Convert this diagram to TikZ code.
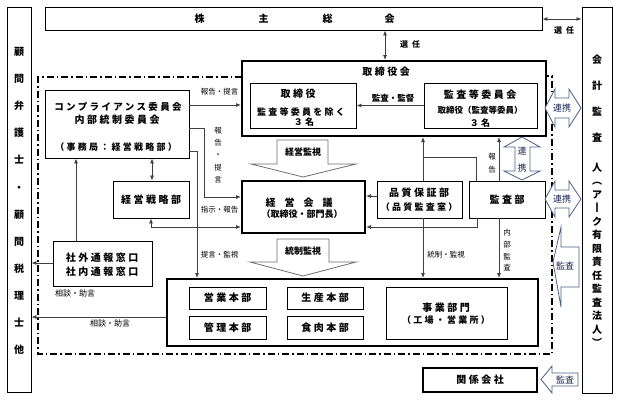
\documentclass[tikz,border=0pt]{standalone}
\usepackage{fontspec}
\setmainfont{Noto Sans CJK JP}
\newfontfamily\jpsp{Noto Sans CJK JP}[LetterSpace=25]
\usetikzlibrary{arrows.meta}
\definecolor{lnc}{RGB}{64,64,64}
\definecolor{slate}{RGB}{75,95,135}
\definecolor{navy}{RGB}{30,40,85}
\definecolor{gry}{RGB}{110,110,110}
\begin{document}
\begin{tikzpicture}[x=1pt,y=-1pt,
  box/.style={draw, line width=0.9pt, inner sep=0, fill=white},
  tbox/.style={draw, line width=2pt, inner sep=0, fill=white},
  T/.style={font=\jpsp\bfseries\fontsize{10}{12}\selectfont, inner sep=0},
  Ts/.style={font=\jpsp\bfseries\fontsize{9}{11}\selectfont, inner sep=0},
  S/.style={font=\fontsize{7.5}{9}\selectfont, inner sep=0},
  V/.style={inner sep=0, align=center},
  arr/.style={draw=lnc, line width=0.8pt, -{Latex[length=5pt,width=4pt]}},
  darr/.style={draw=lnc, line width=0.8pt, {Latex[length=5pt,width=4pt]}-{Latex[length=5pt,width=4pt]}},
  ln/.style={draw=lnc, line width=0.8pt},
  bgry/.style={draw=gry, line width=0.8pt, fill=white},
  bblu/.style={draw=slate, line width=0.8pt, fill=white},
  AT/.style={font=\fontsize{9}{10}\selectfont, text=navy, inner sep=0},
  dd/.style={line width=1.4pt, dash pattern=on 7pt off 3pt on 1.5pt off 3pt}
]
\fill[white] (0,0) rectangle (623,402);
\useasboundingbox (0,0) rectangle (623,402);

% dash-dot boundary
\draw[dd] (242,77) -- (38,77) -- (38,354) -- (552,354) -- (552,76) -- (546,76);

% outer boxes
\node[box, minimum width=24pt, minimum height=385pt] (adv) at (19,199.5) {};
\node[V, font=\bfseries\fontsize{10}{27.1}\selectfont] (advt) at (19,201) {顧\\問\\弁\\護\\士\\・\\顧\\問\\税\\理\\士\\他};
\node[box, minimum width=497pt, minimum height=23pt] (sh) at (293.5,18.5) {};
\node[T, font=\bfseries\fontsize{10}{12}\selectfont] (sht) at (294.5,19) {株\hspace{54pt}主\hspace{54pt}総\hspace{52pt}会};
\node[box, minimum width=30pt, minimum height=386pt] (aud) at (597,200) {};
\node[V, font=\bfseries\fontsize{10}{26}\selectfont] (audt1) at (597,99) {会\\計\\監\\査};
\node[V, font=\bfseries\fontsize{10}{13.5}\selectfont] (audt2) at (597,255) {人\\︵\\ア\\丨\\ク\\有\\限\\責\\任\\監\\査\\法\\人\\︶};

% board
\node[tbox, minimum width=304pt, minimum height=75pt] (board) at (394,98.5) {};
\node[T] (boardt) at (386,72) {取締役会};
\node[box, minimum width=106pt, minimum height=45pt] (dir) at (303,105.5) {};
\node[T] (dirt1) at (298,94) {取締役};
\node[Ts] (dirt2) at (301,112) {監査等委員を除く};
\node[Ts] (dirt3) at (304,122) {３名};
\node[box, minimum width=113pt, minimum height=45pt] (ac) at (480.5,105.5) {};
\node[T] (act1) at (480,95) {監査等委員会};
\node[Ts, font=\bfseries\fontsize{8.5}{10}\selectfont] (act2) at (480,110) {取締役（監査等委員）};
\node[Ts] (act3) at (480,123) {３名};
\node[font=\bfseries\fontsize{8.5}{10}\selectfont, inner sep=0] (kk) at (393,98) {監査・監督};

% compliance etc
\node[box, minimum width=144pt, minimum height=68pt] (comp) at (117,124) {};
\node[Ts, font=\jpsp\bfseries\fontsize{9.5}{11}\selectfont] (compt1) at (118,107) {コンプライアンス委員会};
\node[T] (compt2) at (117,120) {内部統制委員会};
\node[Ts] (compt3) at (116,147) {（事務局：経営戦略部）};
\node[box, minimum width=76pt, minimum height=37pt] (strat) at (151,199.5) {};
\node[T] (stratt) at (151,200) {経営戦略部};

% management meeting
\node[tbox, minimum width=123pt, minimum height=52pt] (mtg) at (303.5,207) {};
\node[font=\bfseries\fontsize{10}{12}\selectfont, inner sep=0] (mtgt1) at (299,203) {経\hspace{9pt}営\hspace{9pt}会\hspace{9pt}議};
\node[font=\bfseries\fontsize{9}{11}\selectfont, inner sep=0] (mtgt2) at (302,214) {（取締役・部門長）};
\node[box, minimum width=85pt, minimum height=37pt] (qa) at (419.5,199.5) {};
\node[T] (qat1) at (419,193) {品質保証部};
\node[Ts] (qat2) at (419,207) {（品質監査室）};
\node[box, minimum width=76pt, minimum height=37pt] (ad) at (507,199.5) {};
\node[T] (adt) at (507,200) {監査部};

% whistle-blowing
\node[box, minimum width=99pt, minimum height=45pt] (wb) at (102.5,263.5) {};
\node[T] (wbt1) at (102,258) {社外通報窓口};
\node[T] (wbt2) at (102,272) {社内通報窓口};

% business
\node[tbox, minimum width=371pt, minimum height=67pt] (biz) at (352.5,312.5) {};
\node[box, minimum width=77pt, minimum height=22pt] (sales) at (227.5,298) {};
\node[T] at (sales) {営業本部};
\node[box, minimum width=76pt, minimum height=22pt] (prod) at (325,298) {};
\node[T] at (prod) {生産本部};
\node[box, minimum width=77pt, minimum height=23pt] (mgmt) at (227.5,327.5) {};
\node[T] at (mgmt) {管理本部};
\node[box, minimum width=76pt, minimum height=23pt] (meat) at (325,327.5) {};
\node[T] at (meat) {食肉本部};
\node[box, minimum width=121pt, minimum height=52pt] (div) at (446.5,313) {};
\node[T] (divt1) at (446,308) {事業部門};
\node[Ts] (divt2) at (446,320) {（工場・営業所）};

\node[tbox, minimum width=114pt, minimum height=24pt] (rel) at (480,380) {};
\node[T] (relt) at (480,380) {関係会社};

% block arrows
\draw[bgry] (277,140) -- (328,140) -- (328,164) -- (356,164) -- (303,177) -- (251,164) -- (277,164) -- cycle;
\node[T, font=\bfseries\fontsize{9}{11}\selectfont] (kks) at (303,152) {経営監視};
\draw[bgry] (277,239) -- (329,239) -- (329,262) -- (356,262) -- (303,276) -- (250,262) -- (277,262) -- cycle;
\node[T, font=\bfseries\fontsize{9}{11}\selectfont] (tks) at (303,251) {統制監視};

\draw[bblu] (522,137) -- (540,147) -- (530,147) -- (530,171) -- (540,171) -- (522,180) -- (504,171) -- (515,171) -- (515,147) -- (504,147) -- cycle;
\node[AT] (rk1) at (522,151) {連};
\node[AT] (rk2) at (522,168) {携};

\draw[bblu] (545,108) -- (555,89) -- (555,98) -- (569,98) -- (569,89) -- (581,108) -- (569,127) -- (569,118) -- (555,118) -- (555,127) -- cycle;
\node[AT] (rk3) at (562,108) {連携};
\draw[bblu] (545,199) -- (555,181) -- (555,190) -- (569,190) -- (569,181) -- (581,199) -- (569,217) -- (569,208) -- (555,208) -- (555,217) -- cycle;
\node[AT] (rk4) at (562,199) {連携};

\draw[bblu] (553,262) -- (561,227) -- (561,247) -- (579,247) -- (579,287) -- (561,287) -- (561,307) -- cycle;
\node[AT] (ks1) at (565,266) {監査};
\draw[bblu] (541,379.5) -- (552,366) -- (552,373) -- (578,373) -- (578,386) -- (552,386) -- (552,393) -- cycle;
\node[AT] (ks2) at (565,379.5) {監査};

% connectors
\draw[darr] (sh.east |- 0,19) -- (aud.west |- 0,19);
\node[font=\bfseries\fontsize{8}{9}\selectfont, inner sep=0] (sn1) at (564,30) {選\hspace{4pt}任};
\draw[darr] (sh.south -| 385,0) -- (board.north -| 385,0);
\node[font=\bfseries\fontsize{8}{9}\selectfont, inner sep=0] (sn2) at (410,44) {選\hspace{4pt}任};
\draw[arr] (ac.west) -- (dir.east);
\draw[arr] (comp.east |- 0,105) -- (board.west |- 0,105);
\node[S] (l1) at (219.5,92) {報告・提言};
\draw[arr] (comp.east |- 0,128) -| (204,197) -- (mtg.west |- 0,197);
\node[V, font=\fontsize{7.5}{12.2}\selectfont] (l2) at (218,155) {報\\告\\・\\提\\言};
\draw[arr] (comp.east |- 0,151) -| (biz.north -| 197,0);
\node[S] (l3) at (219.5,255) {提言・監視};
\draw[darr] (comp.south -| 152,0) -- (strat.north -| 152,0);
\draw[darr] (strat.south) |- (mtg.west |- 0,227);
\node[S] (l4) at (219.5,210) {指示・報告};
\draw[arr] (wb.north -| 76,0) -- (comp.south -| 76,0);
\draw[arr] (wb.west |- 0,263) -- (adv.east |- 0,263);
\node[S, font=\fontsize{8}{9}\selectfont] (l5) at (75,293) {相談・助言};
\draw[arr] (biz.west |- 0,317) -- (adv.east |- 0,317);
\node[S, font=\fontsize{8}{9}\selectfont] (l6) at (110,323) {相談・助言};
\draw[arr] (qa.west |- 0,196) -- (mtg.east |- 0,196);
\draw[arr] (ad.south -| 477,0) |- (mtg.east |- 0,227);
\draw[arr] (qa.north -| 423,0) -- (board.south -| 423,0);
\draw[ln] (ad.north -| 476,0) |- (423,157);
\draw[arr] (qa.south -| 423,0) -- (biz.north -| 423,0);
\node[S] (l7) at (446,255) {統制・監視};
\draw[arr] (ad.north -| 499,0) -- (board.south -| 499,0);
\node[V, font=\fontsize{7.5}{12.5}\selectfont] (l8) at (492,163) {報\\告};
\draw[arr] (ad.south -| 499,0) -- (biz.north -| 499,0);
\node[V, font=\fontsize{7.5}{11.7}\selectfont] (l9) at (507,250.5) {内\\部\\監\\査};
\end{tikzpicture}
\end{document}
